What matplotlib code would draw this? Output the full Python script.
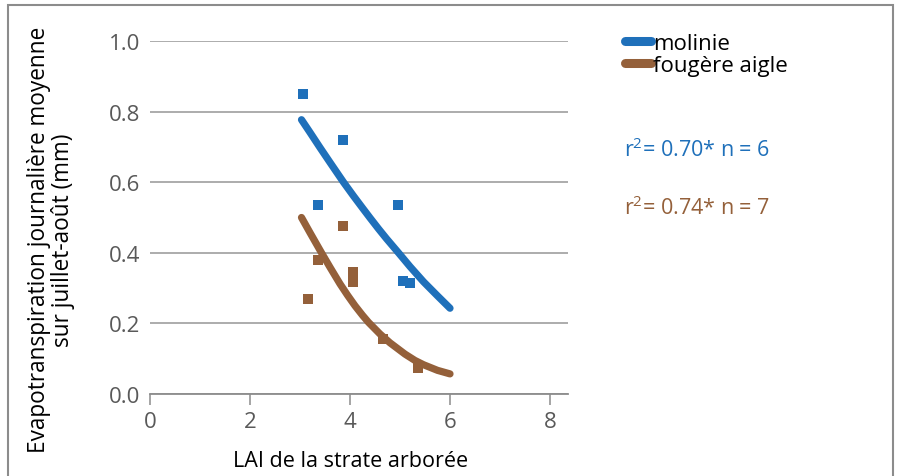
import matplotlib.pyplot as plt
from matplotlib.patches import Rectangle

# observed points
molinie_lai = [3.05, 3.35, 3.85, 4.95, 5.05, 5.2]
molinie_et = [0.85, 0.535, 0.72, 0.535, 0.32, 0.315]
fougere_lai = [3.15, 3.35, 3.85, 4.05, 4.05, 4.65, 5.35]
fougere_et = [0.27, 0.38, 0.477, 0.347, 0.316, 0.155, 0.075]

# trend curves
molinie_fit_x = [3.03, 3.2, 3.4, 3.6, 3.87, 4.07, 4.25, 4.4, 4.57, 4.73, 4.97,
                 5.2, 5.47, 5.75, 6.0]
molinie_fit_y = [0.777, 0.741, 0.698, 0.656, 0.600, 0.561, 0.527, 0.499, 0.468,
                 0.440, 0.400, 0.361, 0.318, 0.278, 0.243]
fougere_fit_x = [3.03, 3.2, 3.43, 3.6, 3.8, 3.95, 4.1, 4.25, 4.37, 4.6, 4.8,
                 5.1, 5.3, 5.47, 5.75, 6.0]
fougere_fit_y = [0.500, 0.457, 0.400, 0.359, 0.312, 0.280, 0.250, 0.223, 0.203,
                 0.170, 0.145, 0.113, 0.095, 0.083, 0.067, 0.057]

xticks = [0, 2, 4, 6, 8]
yticks = [0.0, 0.2, 0.4, 0.6, 0.8, 1.0]

blue = '#1F70BA'
brown = '#94603A'
grey = '#595959'

plt.rcParams['font.family'] = ['Open Sans', 'DejaVu Sans']
plt.rcParams['mathtext.fontset'] = 'custom'
plt.rcParams['mathtext.rm'] = 'Open Sans'

fig = plt.figure(figsize=(9.01, 4.77), dpi=100)
ax = fig.add_axes([150 / 901, 1 - 395 / 477, 418 / 901, 353 / 477])

ax.plot(molinie_fit_x, molinie_fit_y, color=blue, lw=5.2, solid_capstyle='round',
        solid_joinstyle='round', label='molinie', zorder=3)
ax.plot(fougere_fit_x, fougere_fit_y, color=brown, lw=5.2, solid_capstyle='round',
        solid_joinstyle='round', label='fougère aigle', zorder=3)
ax.plot(molinie_lai, molinie_et, 's', color=blue, ms=7, mew=0, zorder=4)
ax.plot(fougere_lai, fougere_et, 's', color=brown, ms=7, mew=0, zorder=4)

ax.set_xlim(0, 8.36)
ax.set_ylim(0, 1.0)
ax.set_xticks(xticks)
ax.set_yticks(yticks)
ax.set_yticklabels(['%.1f' % v for v in yticks])
ax.yaxis.grid(True, color='#A6A6A6', lw=1.3)
ax.set_axisbelow(True)
for s in ['top', 'right', 'left']:
    ax.spines[s].set_visible(False)
ax.spines['bottom'].set_color('#8C8C8C')
ax.spines['bottom'].set_linewidth(1.3)
ax.tick_params(axis='y', length=0, pad=7, labelsize=16, labelcolor=grey)
ax.tick_params(axis='x', length=8, width=1.1, color='#8C8C8C', pad=4,
               labelsize=16, labelcolor=grey)

fig.text(351 / 901, 1 - 462 / 477, 'LAI de la strate arborée', ha='center',
         va='center', fontsize=15.5, color='black')
fig.text(51 / 901, 1 - 240 / 477,
         'Evapotranspiration journalière moyenne\nsur juillet-août (mm)',
         ha='center', va='center', rotation=90, fontsize=16.3, color='black',
         linespacing=1.05)

leg = fig.legend(loc='upper left', bbox_to_anchor=(614 / 901, 1 - 23 / 477),
                 frameon=False, fontsize=16, handlelength=1.15, handletextpad=0.12,
                 labelspacing=0.02, borderpad=0)
for h in leg.legend_handles:
    h.set_linewidth(6.5)
    h.set_solid_capstyle('round')

fig.text(624 / 901, 1 - 150 / 477, r'r$^{2}$= 0.70* n = 6', ha='left', va='center',
         fontsize=15.5, color=blue)
fig.text(624 / 901, 1 - 208 / 477, r'r$^{2}$= 0.74* n = 7', ha='left', va='center',
         fontsize=15.5, color=brown)

fig.patches.append(Rectangle((8 / 901, -0.1), 885 / 901, 1.1 - 6 / 477,
                             transform=fig.transFigure, fill=False,
                             edgecolor='#8C8C8C', lw=1.5))

fig.savefig('out.png', dpi=100)
